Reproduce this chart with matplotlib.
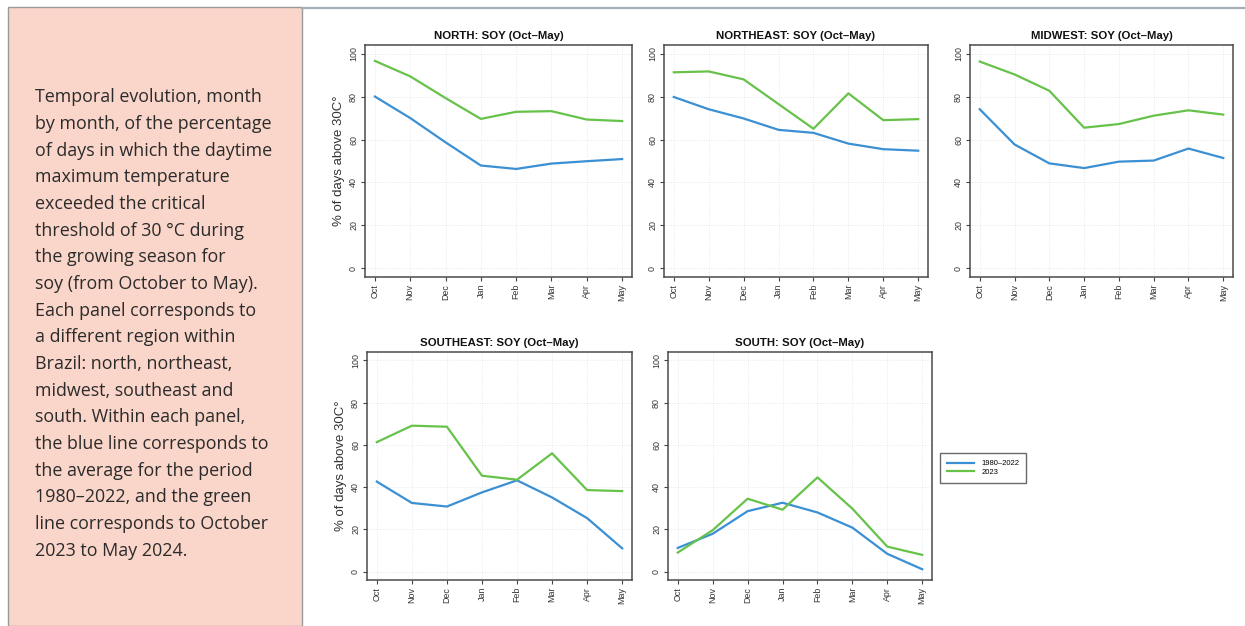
import matplotlib
matplotlib.use("Agg")
import matplotlib.pyplot as plt
from matplotlib.patches import Rectangle
from matplotlib.lines import Line2D

months = ["Oct", "Nov", "Dec", "Jan", "Feb", "Mar", "Apr", "May"]
regions = ["NORTH", "NORTHEAST", "MIDWEST", "SOUTHEAST", "SOUTH"]
series_labels = ["1980\u20132022", "2023"]

north_hist = [80.0, 70.0, 58.7, 47.9, 46.3, 48.8, 49.9, 50.9]
north_2023 = [96.6, 89.4, 79.3, 69.6, 72.9, 73.2, 69.3, 68.6]
northeast_hist = [79.8, 74.1, 69.8, 64.5, 63.1, 58.1, 55.5, 54.8]
northeast_2023 = [91.3, 91.7, 88.0, 76.5, 65.0, 81.5, 69.0, 69.5]
midwest_hist = [74.1, 57.7, 48.9, 46.7, 49.7, 50.2, 55.8, 51.4]
midwest_2023 = [96.3, 90.3, 82.7, 65.5, 67.2, 71.1, 73.6, 71.6]
southeast_hist = [42.6, 32.5, 30.8, 37.5, 43.2, 35.1, 25.3, 11.0]
southeast_2023 = [61.3, 69.1, 68.6, 45.4, 43.5, 56.0, 38.6, 38.1]
south_hist = [11.2, 17.9, 28.6, 32.6, 28.0, 20.8, 8.4, 1.1]
south_2023 = [9.0, 19.6, 34.5, 29.3, 44.6, 29.8, 11.8, 7.9]

y_ticks = [0, 20, 40, 60, 80, 100]

caption_lines = [
    "Temporal evolution, month",
    "by month, of the percentage",
    "of days in which the daytime",
    "maximum temperature",
    "exceeded the critical",
    "threshold of 30 \u00b0C during",
    "the growing season for",
    "soy (from October to May).",
    "Each panel corresponds to",
    "a different region within",
    "Brazil: north, northeast,",
    "midwest, southeast and",
    "south. Within each panel,",
    "the blue line corresponds to",
    "the average for the period",
    "1980\u20132022, and the green",
    "line corresponds to October",
    "2023 to May 2024.",
]

hist_data = [north_hist, northeast_hist, midwest_hist, southeast_hist, south_hist]
new_data = [north_2023, northeast_2023, midwest_2023, southeast_2023, south_2023]

BLUE = "#3b8fd3"
GREEN = "#67c24a"
W, H = 1245, 626

fig = plt.figure(figsize=(W / 100, H / 100), dpi=100)
fig.patch.set_facecolor("white")

# Left caption panel
fig.patches.append(Rectangle((8 / W, 0), (302 - 8) / W, 1 - 7 / H,
                             transform=fig.transFigure, facecolor="#fad5c9",
                             edgecolor="#9a9a9a", linewidth=1.0, zorder=0))
fig.lines.append(Line2D([302 / W, 1], [1 - 7.5 / H, 1 - 7.5 / H],
                        transform=fig.transFigure, color="#a6afb6", lw=1.6))

for i, line in enumerate(caption_lines):
    yb = 102.5 + i * 26.65
    fig.text(35 / W, 1 - yb / H, line, fontsize=12.9, family="Open Sans",
             color="#2b2b2b", va="baseline", ha="left")

# axes rectangles in pixels: (x0, x1, ytop, ybottom)
boxes = [
    (365, 632, 45, 277),
    (664, 928, 45, 277),
    (970, 1233, 45, 277),
    (367, 632, 352, 580),
    (668, 932, 352, 580),
]

plt.rcParams["font.family"] = ["Liberation Sans", "DejaVu Sans"]

x = list(range(len(months)))
for k, (x0, x1, yt, yb) in enumerate(boxes):
    ax = fig.add_axes([x0 / W, 1 - yb / H, (x1 - x0) / W, (yb - yt) / H])
    ax.set_xlim(-0.28, 7.28)
    ax.set_ylim(-4, 104)
    for xv in x:
        ax.axvline(xv, color="#dde5ee", lw=0.6, ls=":", zorder=0)
    for yv in y_ticks:
        ax.axhline(yv, color="#dde5ee", lw=0.6, ls=":", zorder=0)
    ax.plot(x, hist_data[k], color=BLUE, lw=1.6, label=series_labels[0])
    ax.plot(x, new_data[k], color=GREEN, lw=1.6, label=series_labels[1])
    ax.set_xticks(x)
    ax.set_xticklabels(months, rotation=90)
    ax.set_yticks(y_ticks)
    ax.set_yticklabels([str(v) for v in y_ticks], rotation=90, va="center")
    ax.tick_params(direction="out", length=3, width=0.8, colors="#444444",
                   labelsize=6.4, pad=2, labelcolor="#333333")
    for s in ax.spines.values():
        s.set_color("#4a4a4a")
        s.set_linewidth(1.1)
    ax.set_title(f"{regions[k]}: SOY (Oct\u2013May)", fontsize=8.2,
                 fontweight="bold", pad=4, color="#111111")
    if k in (0, 3):
        ax.set_ylabel("% of days above 30C\u00b0", fontsize=9.5,
                      color="#333333", labelpad=3)
    if k == 4:
        handles, labels = ax.get_legend_handles_labels()

leg = fig.legend(handles, labels, loc="upper left",
                 bbox_to_anchor=(940 / W, 1 - 453 / H),
                 bbox_transform=fig.transFigure, borderaxespad=0,
                 fontsize=5.5, frameon=True, fancybox=False,
                 handlelength=3.5, handletextpad=1.0, borderpad=0.9,
                 labelspacing=0.2)
leg.get_frame().set_edgecolor("#444444")
leg.get_frame().set_linewidth(1.0)

fig.savefig("out.png", dpi=100)
